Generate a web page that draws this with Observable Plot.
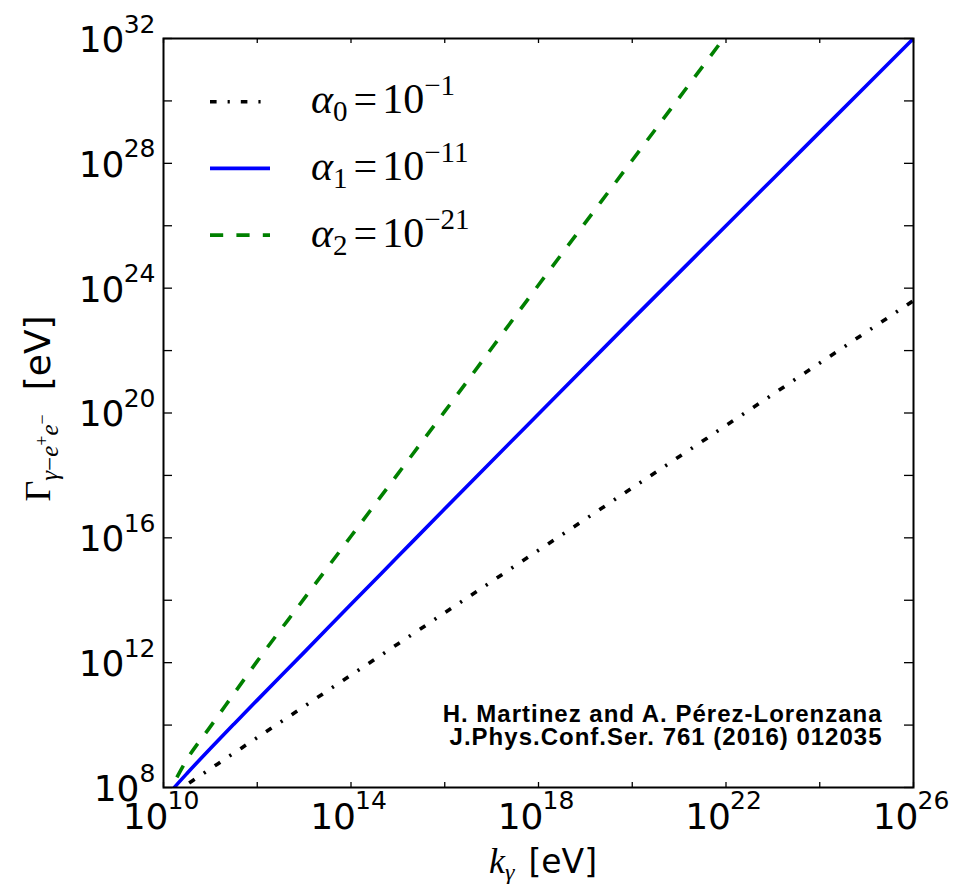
<!DOCTYPE html>
<html><head><meta charset="utf-8">
<script src="https://cdn.jsdelivr.net/npm/d3@7"></script>
<script src="https://cdn.jsdelivr.net/npm/@observablehq/plot@0.6"></script>
<style>
html,body{margin:0;padding:0;background:#fff;}
#chart{position:relative;width:956px;height:884px;}
</style></head><body><div id="chart"></div>
<script>
// photon energy k_γ, log10(eV)
const kExp = [10, 10.2, 10.5, 11, 11.5, 12, 13, 14, 15, 16, 18, 20, 22, 24, 26];
// decay rate Γ, log10(eV)
const gammaAlpha0Exp = [7.6, 7.8, 8.1, 8.6, 9.1, 9.6, 10.6, 11.6, 12.6, 13.6, 15.6, 17.6, 19.6, 21.6, 23.6];
const gammaAlpha1Exp = [7.6, 7.95, 8.45, 9.25, 10.03, 10.8, 12.33, 13.87, 15.4, 16.93, 19.97, 23.0, 26.0, 29.0, 32.0];
const gammaAlpha2Exp = [7.6, 8.1, 8.9, 9.95, 11.0, 12.05, 14.05, 16.05, 18.05, 20.05, 24.1, 28.1, 32.1, 36.1, 40.1];

const seriesIndex = [0, 1, 2];
const seriesAlphaExp = ["−1", "−11", "−21"];
const seriesColors = ["#000000", "#0000ff", "#008000"];
const seriesDash = ["6.6,11,2.2,11", null, "13.2,13.2"];
const seriesValues = [gammaAlpha0Exp, gammaAlpha1Exp, gammaAlpha2Exp];

const xTickExps = [10, 12, 14, 16, 18, 20, 22, 24, 26];
const xLabelExps = [10, 14, 18, 22, 26];
const yTickExps = [8, 10, 12, 14, 16, 18, 20, 22, 24, 26, 28, 30, 32];
const yLabelExps = [8, 12, 16, 20, 24, 28, 32];
const citation = ["H. Martinez and A. Pérez-Lorenzana", "J.Phys.Conf.Ser. 761 (2016) 012035"];

const rows = seriesIndex.flatMap(s => kExp.map((k, i) => ({s, k: 10 ** k, g: 10 ** seriesValues[s][i]})));

const W = 956, H = 884, mL = 163, mR = 43, mT = 38, mB = 97;
const fw = W - mL - mR, fh = H - mT - mB;
const tickStyle = {stroke: "#000", strokeWidth: 1.3};
const supFont = 25, mainFont = 36;

const plot = Plot.plot({
  width: W, height: H,
  marginLeft: mL, marginRight: mR, marginTop: mT, marginBottom: mB,
  style: {background: "#fff", fontFamily: "DejaVu Sans", color: "#000", overflow: "visible"},
  x: {type: "log", domain: [1e10, 1e26], axis: null},
  y: {type: "log", domain: [1e8, 1e32], axis: null},
  marks: [
    ...seriesIndex.map(s => Plot.line(rows.filter(r => r.s === s), {
      x: "k", y: "g", stroke: seriesColors[s], strokeWidth: 3.6,
      strokeDasharray: seriesDash[s] || undefined, strokeLinecap: "butt",
      curve: "monotone-x", clip: true
    })),
    Plot.ruleX(xTickExps, {x: e => 10 ** e, insetTop: fh - 5, ...tickStyle}),
    Plot.ruleX(xTickExps, {x: e => 10 ** e, insetBottom: fh - 5, ...tickStyle}),
    Plot.ruleY(yTickExps, {y: e => 10 ** e, insetRight: fw - 9, ...tickStyle}),
    Plot.ruleY(yTickExps, {y: e => 10 ** e, insetLeft: fw - 9, ...tickStyle}),
    Plot.frame({stroke: "#000", strokeWidth: 2}),
    // x tick labels
    Plot.text(xLabelExps, {x: e => 10 ** e, frameAnchor: "bottom", text: () => "10", textAnchor: "end",
      lineAnchor: "bottom", dx: 5, dy: 41, fontSize: mainFont, fill: "#000"}),
    Plot.text(xLabelExps, {x: e => 10 ** e, frameAnchor: "bottom", text: e => String(e), textAnchor: "start",
      lineAnchor: "bottom", dx: 4, dy: 41 - 19.5, fontSize: supFont, fill: "#000"}),
    // y tick labels
    Plot.text(yLabelExps.filter(e => e >= 10), {y: e => 10 ** e, frameAnchor: "left", text: () => "10", textAnchor: "end",
      lineAnchor: "bottom", dx: -39, dy: 13.4, fontSize: mainFont, fill: "#000"}),
    Plot.text(yLabelExps.filter(e => e < 10), {y: e => 10 ** e, frameAnchor: "left", text: () => "10", textAnchor: "end",
      lineAnchor: "bottom", dx: -24, dy: 13.4, fontSize: mainFont, fill: "#000"}),
    Plot.text(yLabelExps, {y: e => 10 ** e, frameAnchor: "left", text: e => String(e), textAnchor: "end",
      lineAnchor: "bottom", dx: -8, dy: -6, fontSize: supFont, fill: "#000"}),
    // citation
    Plot.text([citation.join("\n")], {text: d => d, frameAnchor: "bottom-right", textAnchor: "end", lineAnchor: "bottom",
      dx: -31, dy: -43, fontFamily: "Liberation Sans", fontWeight: "bold", fontSize: 24, lineHeight: 0.93, fill: "#000"})
  ]
});

const svg = d3.select(plot);
svg.selectAll("text").filter(function () { return this.textContent.includes("Martinez"); })
  .style("letter-spacing", "1px");

const g = svg.append("g").attr("text-anchor", "start");
const serif = "Liberation Serif";

// x axis title
const xl = g.append("text").attr("x", mL + fw / 2 + 5).attr("y", 873).attr("text-anchor", "middle")
  .attr("font-size", 33).attr("fill", "#000");
xl.append("tspan").attr("font-family", serif).attr("font-style", "italic").attr("font-size", 36).text("k");
xl.append("tspan").attr("font-family", serif).attr("font-style", "italic").attr("font-size", 24).attr("dy", 7).text("γ");
xl.append("tspan").attr("font-family", "DejaVu Sans").attr("dy", -7).attr("dx", 14).text("[eV]");

// y axis title
const yl = g.append("text").attr("transform", `translate(50,${mT + fh / 2 - 4}) rotate(-90)`)
  .attr("text-anchor", "middle").attr("font-size", 36).attr("fill", "#000");
yl.append("tspan").attr("font-family", serif).text("Γ");
yl.append("tspan").attr("font-family", serif).attr("font-style", "italic").attr("font-size", 25).attr("dy", 8).text("γ");
yl.append("tspan").attr("font-family", serif).attr("font-size", 25).text("−");
yl.append("tspan").attr("font-family", serif).attr("font-style", "italic").attr("font-size", 25).text("e");
yl.append("tspan").attr("font-family", serif).attr("font-size", 18).attr("dy", -10).text("+");
yl.append("tspan").attr("font-family", serif).attr("font-style", "italic").attr("font-size", 25).attr("dy", 10).text("e");
yl.append("tspan").attr("font-family", serif).attr("font-size", 18).attr("dy", -10).text("−");
yl.append("tspan").attr("font-family", "DejaVu Sans").attr("dy", 2).attr("dx", 24).text("[eV]");

// legend
seriesIndex.forEach(s => {
  const cy = 101.7 + s * 66.7;
  g.append("line").attr("x1", 210).attr("x2", 270).attr("y1", cy).attr("y2", cy)
    .attr("stroke", seriesColors[s]).attr("stroke-width", 3.6)
    .attr("stroke-dasharray", seriesDash[s]).attr("stroke-linecap", "butt");
  const t = g.append("text").attr("x", 311).attr("y", cy + 11.6).attr("font-family", serif)
    .attr("text-anchor", "start").attr("font-size", 42).attr("fill", "#000");
  t.append("tspan").attr("font-style", "italic").text("α");
  t.append("tspan").attr("font-size", 29).attr("dy", 8).text(String(s));
  t.append("tspan").attr("dy", -8).attr("dx", 6).text("=");
  t.append("tspan").attr("dx", 5).text("10");
  t.append("tspan").attr("font-size", 29).attr("dy", -18).text(seriesAlphaExp[s]);
});

document.getElementById("chart").appendChild(plot);
</script></body></html>
